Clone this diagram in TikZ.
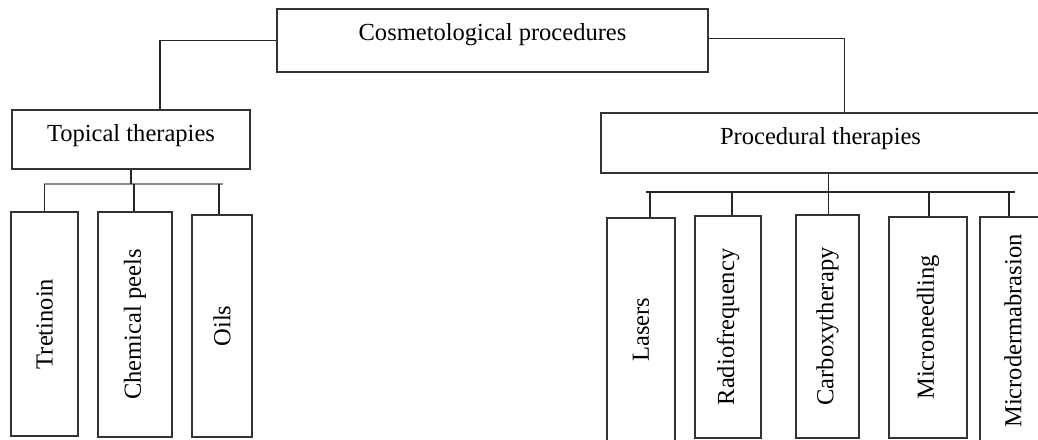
\documentclass[tikz,border=0pt]{standalone}
\usepackage{fontspec}
\setmainfont{Liberation Serif}
\usetikzlibrary{calc}

\tikzset{
  headbox/.style={draw=black!80, line width=0.9pt, inner sep=0pt, font=\fontsize{18.4}{22}\selectfont},
  leafbox/.style={draw=black!80, line width=0.9pt, inner sep=0pt, rotate=90, font=\fontsize{18.4}{22}\selectfont},
  link/.style={draw=black!85, line width=1pt},
  greylink/.style={draw=black!45, line width=2pt},
}

\begin{document}
\begin{tikzpicture}[x=0.75pt,y=0.75pt,yscale=-1,xscale=1]
\useasboundingbox (0,0) rectangle (1038,439);

% Head boxes
\node[headbox, minimum width=323.25pt, minimum height=47.25pt, text height=0.5em, text depth=0.5em] (cosm) at (492.5,40.5) {Cosmetological procedures};
\node[headbox, minimum width=178.5pt, minimum height=44.25pt, text height=0.7em, text depth=0.42em] (topical) at (131,139.5) {Topical therapies};
\node[headbox, minimum width=329.25pt, minimum height=45pt, text height=0.7em, text depth=0.42em] (proc) at (820.5,143) {Procedural therapies};

% Topical leaves
\node[leafbox, minimum width=168pt, minimum height=50.25pt] (tret) at (44.5,324) {Tretinoin};
\node[leafbox, minimum width=168.75pt, minimum height=55.5pt] (chem) at (135,324.5) {Chemical peels};
\node[leafbox, minimum width=166.5pt, minimum height=45pt] (oils) at (222,326) {Oils};

% Procedural leaves
\node[leafbox, minimum width=167.25pt, minimum height=51pt] (lasers) at (641,329.5) {Lasers};
\node[leafbox, minimum width=166.5pt, minimum height=49.5pt] (radio) at (728,327) {Radiofrequency};
\node[leafbox, minimum width=167.25pt, minimum height=47.25pt] (carb) at (827.5,326.5) {Carboxytherapy};
\node[leafbox, minimum width=165.75pt, minimum height=58.5pt] (micn) at (928,327.5) {Microneedling};
\node[leafbox, minimum width=171pt, minimum height=49.5pt] (micd) at (1013,331) {Microdermabrasion};

% Top links
\draw[link] (cosm.west) -| ($(topical.north)+(29,0)$);
\draw[link] ([yshift=-1.5pt]cosm.east) -| ($(proc.north)+(24,0)$);

% Topical bus
\coordinate (tbusL) at (44,184);
\coordinate (tbusR) at (223,184);
\draw[greylink] (tbusL) -- (tbusR);
\draw[link] (topical.south) -- (topical.south |- tbusL);
\foreach \leaf/\dx in {tret/0, chem/-1, oils/-3}
  \draw[link] ($(\leaf.east)+(\dx,0)$) coordinate (drop) -- (drop |- tbusL);

% Procedural bus
\coordinate (pbusL) at (646,192);
\coordinate (pbusR) at (1015,192);
\draw[link] (pbusL) -- (pbusR);
\draw[link] ($(proc.south)+(8,0)$) coordinate (stem) -- (stem |- pbusL);
\foreach \leaf/\dx in {lasers/9, radio/4, carb/1, micn/1, micd/-4}
  \draw[link] ($(\leaf.east)+(\dx,0)$) coordinate (drop) -- (drop |- pbusL);

\end{tikzpicture}
\end{document}
